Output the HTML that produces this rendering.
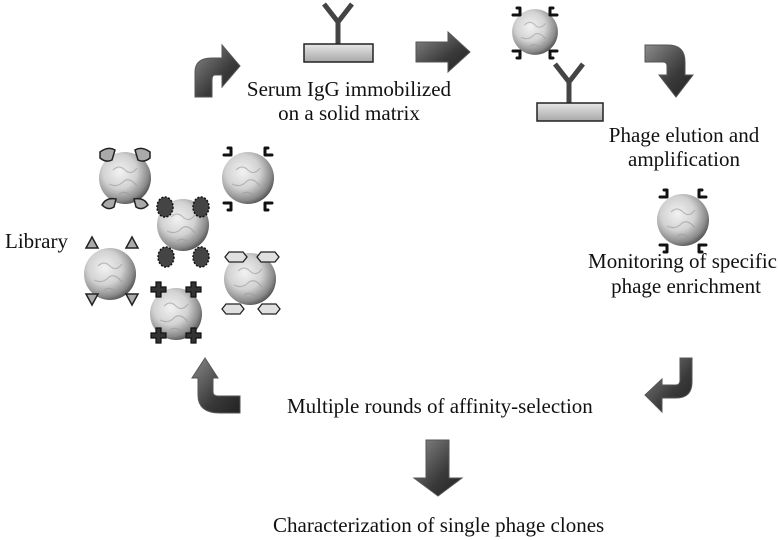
<!DOCTYPE html>
<html><head><meta charset="utf-8"><style>
html,body{margin:0;padding:0;background:#fff;}
svg{display:block;}
text{font-family:"Liberation Serif",serif;font-size:21px;fill:#111;}
</style></head><body>
<svg width="778" height="540" viewBox="0 0 778 540" xmlns="http://www.w3.org/2000/svg">
<defs>
<radialGradient id="ph" cx="0.4" cy="0.38" r="0.65">
<stop offset="0" stop-color="#f2f2f2"/><stop offset="0.5" stop-color="#d2d2d2"/><stop offset="0.85" stop-color="#8a8a8a"/><stop offset="1" stop-color="#555"/>
</radialGradient>
<linearGradient id="ar" x1="0" y1="0" x2="1" y2="1">
<stop offset="0" stop-color="#8a8a8a"/><stop offset="0.6" stop-color="#3a3a3a"/><stop offset="1" stop-color="#222"/>
</linearGradient>
<linearGradient id="bs" x1="0" y1="0" x2="0" y2="1">
<stop offset="0" stop-color="#e6e6e6"/><stop offset="1" stop-color="#a8a8a8"/>
</linearGradient>
<g id="phage"><circle r="26" fill="url(#ph)"/><path d="M-12,-8 q6,-6 12,0 q6,6 12,-2 M-16,6 q8,4 14,-2 q6,-6 14,4 M-6,16 q6,-4 12,2" stroke="#999" stroke-width="1.2" fill="none" opacity="0.6"/></g>
<g id="hk" fill="none" stroke="#111" stroke-width="3" stroke-linecap="round" stroke-linejoin="round"><path d="M-8,-7 h7 v-7 h-3"/></g>
</defs>

<g fill="url(#ar)" stroke="#555" stroke-width="1">
<path d="M195,97 V72 Q195,58 212,58 H222 V45 L240,66 L222,87 V75 H215 Q212,75 212,80 V97 Z"/>
<path d="M416,42 H448 V32 L470,52 L448,72 V62 H416 Z"/>
<path d="M645,45 H668 Q685,45 685,62 V75 H693 L676,97 L659,75 H667 V66 Q667,62 663,62 H645 Z"/>
<path d="M692,358 V382 Q692,398 676,398 H662 V412 L645,395 L662,379 V385 H676 Q680,385 680,380 V358 Z"/>
<path d="M240,413 H220 Q198,413 198,395 V378 H192 L205,358 L218,378 H213 V392 Q213,396 218,396 H240 Z"/>
<path d="M426,440 H449 V478 H462 L438,496 L414,478 H426 Z"/>
</g>

<g stroke="#444" stroke-width="5" fill="none"><path d="M338,45 V22 L324,4 M338,22 L352,4"/></g>
<rect x="304" y="44" width="69" height="18" fill="url(#bs)" stroke="#222" stroke-width="1.5"/>
<g stroke="#444" stroke-width="5" fill="none"><path d="M569,104 V82 L555,64 M569,82 L583,64"/></g>
<rect x="537" y="103" width="66" height="18" fill="url(#bs)" stroke="#222" stroke-width="1.5"/>

<g transform="translate(535,32) scale(0.88)"><use href="#phage"/></g>
<g transform="translate(535,32)"><use href="#hk" transform="translate(-14,-10)"/><use href="#hk" transform="translate(14,-10) scale(-1,1)"/><use href="#hk" transform="translate(-14,12) scale(1,-1)"/><use href="#hk" transform="translate(14,12) scale(-1,-1)"/></g>

<use href="#phage" x="683" y="220"/>
<g transform="translate(683,220)"><use href="#hk" transform="translate(-15,-16)"/><use href="#hk" transform="translate(15,-16) scale(-1,1)"/><use href="#hk" transform="translate(-15,18) scale(1,-1)"/><use href="#hk" transform="translate(15,18) scale(-1,-1)"/></g>

<use href="#phage" x="125" y="178"/>
<g fill="#aaa" stroke="#222" stroke-width="1.5">
<path d="M100,152 q8,-6 15,-2 l-3,10 q-6,3 -12,-2 z"/><path d="M150,152 q-8,-6 -15,-2 l3,10 q6,3 12,-2 z"/>
<path d="M102,205 q4,-8 14,-6 l-2,8 q-6,4 -12,-2 z"/><path d="M148,205 q-4,-8 -14,-6 l2,8 q6,4 12,-2 z"/>
</g>
<use href="#phage" x="248" y="178"/>
<g transform="translate(248,178)"><use href="#hk" transform="translate(-16,-16)"/><use href="#hk" transform="translate(16,-16) scale(-1,1)"/><use href="#hk" transform="translate(-16,18) scale(1,-1)"/><use href="#hk" transform="translate(16,18) scale(-1,-1)"/></g>
<use href="#phage" x="183" y="225"/>
<g fill="#444" stroke="#111" stroke-width="1.5" stroke-dasharray="2 1.5">
<ellipse cx="165" cy="207" rx="8" ry="10"/><ellipse cx="201" cy="207" rx="8" ry="10"/>
<ellipse cx="166" cy="257" rx="8" ry="10"/><ellipse cx="201" cy="257" rx="8" ry="10"/>
</g>
<use href="#phage" x="110" y="274"/>
<g fill="#aaa" stroke="#222" stroke-width="1.5">
<path d="M86,248 l6,-11 l6,11 z"/><path d="M126,248 l6,-11 l6,11 z"/>
<path d="M86,294 l6,11 l6,-11 z"/><path d="M126,294 l6,11 l6,-11 z"/>
</g>
<use href="#phage" x="176" y="314"/>
<g fill="#333" stroke="#111" stroke-width="1.2">
<path d="M151,287 h5 v-5 h5 v5 h5 v5 h-5 v5 h-5 v-5 h-5 z"/><path d="M186,287 h5 v-5 h5 v5 h5 v5 h-5 v5 h-5 v-5 h-5 z"/>
<path d="M151,333 h5 v-5 h5 v5 h5 v5 h-5 v5 h-5 v-5 h-5 z"/><path d="M186,333 h5 v-5 h5 v5 h5 v5 h-5 v5 h-5 v-5 h-5 z"/>
</g>
<use href="#phage" x="250" y="279"/>
<g fill="#e0e0e0" stroke="#222" stroke-width="1.3">
<path d="M225,257 l4,-5 h14 l4,5 l-4,5 h-14 z"/><path d="M257,257 l4,-5 h14 l4,5 l-4,5 h-14 z"/>
<path d="M222,309 l4,-5 h14 l4,5 l-4,5 h-14 z"/><path d="M258,309 l4,-5 h14 l4,5 l-4,5 h-14 z"/>
</g>

<text x="349" y="96" text-anchor="middle">Serum IgG immobilized</text>
<text x="349" y="120" text-anchor="middle">on a solid matrix</text>
<text x="684" y="142" text-anchor="middle">Phage elution and</text>
<text x="684" y="166" text-anchor="middle">amplification</text>
<text x="777" y="268" text-anchor="end">Monitoring of specific</text>
<text x="686" y="293" text-anchor="middle">phage enrichment</text>
<text x="5" y="248">Library</text>
<text x="287" y="413">Multiple rounds of affinity-selection</text>
<text x="273" y="532">Characterization of single phage clones</text>
</svg>
</body></html>
